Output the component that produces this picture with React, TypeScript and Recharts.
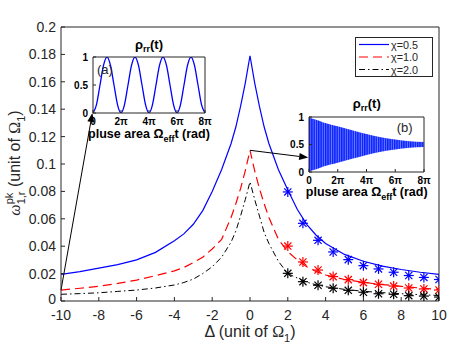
import React from 'react';
import { ComposedChart, Line, Area, XAxis, YAxis, ReferenceLine } from 'recharts';

const AX = '#262626';
const SANS = '"Liberation Sans", Arial, Helvetica, sans-serif';
const SERIF = '"Liberation Serif", "DejaVu Serif", serif';

// main panel: peak frequency vs detuning
const delta = [-10, -9, -8, -7, -6, -5, -4, -3.5, -3, -2.5, -2, -1.5, -1, -0.75, -0.5, -0.25, 0, 0.25, 0.5, 0.75, 1, 1.5, 2, 2.5, 3, 3.5, 4, 5, 6, 7, 8, 9, 10];
const chi05 = [0.0195, 0.0215, 0.024, 0.0265, 0.03, 0.0355, 0.044, 0.049, 0.056, 0.066, 0.08, 0.096, 0.115, 0.127, 0.142, 0.159, 0.179, 0.159, 0.142, 0.127, 0.115, 0.096, 0.081, 0.067, 0.056, 0.048, 0.042, 0.034, 0.029, 0.0255, 0.023, 0.021, 0.0195];
const chi10 = [0.008, 0.0093, 0.0108, 0.0128, 0.0153, 0.0185, 0.022, 0.0245, 0.028, 0.032, 0.038, 0.045, 0.061, 0.071, 0.082, 0.095, 0.11, 0.095, 0.082, 0.071, 0.061, 0.045, 0.036, 0.03, 0.025, 0.0215, 0.019, 0.0157, 0.0136, 0.012, 0.0107, 0.0095, 0.0085];
const chi20 = [0.0049, 0.0054, 0.006, 0.007, 0.008, 0.0095, 0.0117, 0.0135, 0.016, 0.02, 0.025, 0.032, 0.043, 0.051, 0.062, 0.074, 0.087, 0.074, 0.062, 0.05, 0.042, 0.029, 0.02, 0.0168, 0.0138, 0.0118, 0.0104, 0.0085, 0.0071, 0.0061, 0.0053, 0.0046, 0.004];

// numerical points (asterisks)
const starDelta = [2, 2.8, 3.6, 4.4, 5.2, 6, 6.8, 7.6, 8.4, 9.2, 10];
const star05 = [0.0796, 0.0567, 0.0443, 0.0358, 0.0302, 0.0258, 0.0234, 0.021, 0.0186, 0.0172, 0.0157];
const star10 = [0.0401, 0.0285, 0.0226, 0.0178, 0.0156, 0.0134, 0.0122, 0.0109, 0.0095, 0.0088, 0.008];
const star20 = [0.0202, 0.0141, 0.0115, 0.0093, 0.0078, 0.0064, 0.0053, 0.0049, 0.0039, 0.0036, 0.0029];

const xTicks = [-10, -8, -6, -4, -2, 0, 2, 4, 6, 8, 10];
const yTicks = [0, 0.02, 0.04, 0.06, 0.08, 0.1, 0.12, 0.14, 0.16, 0.18, 0.2];

// inset (a): Rabi oscillation, t in units of pi
const tA = [0, 0.25, 0.5, 0.75, 1, 1.25, 1.5, 1.75, 2, 2.25, 2.5, 2.75, 3, 3.25, 3.5, 3.75, 4, 4.25, 4.5, 4.75, 5, 5.25, 5.5, 5.75, 6, 6.25, 6.5, 6.75, 7, 7.25, 7.5, 7.75, 8];
const rhoA = [0, 0.15, 0.5, 0.85, 1, 0.85, 0.5, 0.15, 0, 0.15, 0.5, 0.85, 1, 0.85, 0.5, 0.15, 0, 0.15, 0.5, 0.85, 1, 0.85, 0.5, 0.15, 0, 0.15, 0.5, 0.85, 1, 0.85, 0.5, 0.15, 0];

// inset (b): envelope of the fast damped oscillation
const tB = [0, 0.25, 0.5, 1, 2, 3, 4, 5, 6, 7, 8];
const rhoBHigh = [1, 0.97, 0.95, 0.9, 0.83, 0.76, 0.69, 0.63, 0.59, 0.56, 0.545];
const rhoBLow = [0, 0.03, 0.05, 0.1, 0.17, 0.24, 0.31, 0.37, 0.41, 0.44, 0.455];

const piTicks = [0, 2, 4, 6, 8];
const rhoTicks = [0, 0.5, 1];

const legendItems = [
  { label: 'χ=0.5', color: '#0000ff', dash: undefined },
  { label: 'χ=1.0', color: '#ff0000', dash: '9 5' },
  { label: 'χ=2.0', color: '#000000', dash: '6 3 1.5 3' },
];

const mainRows = delta.map((d, i) => ({ d, c05: chi05[i], c10: chi10[i], c20: chi20[i] }));
const starRows = (vals: number[]) => starDelta.map((d, i) => ({ d, v: vals[i] }));
const rowsA = tA.map((t, i) => ({ t, rho: rhoA[i] }));
const rowsB = tB.map((t, i) => ({ t, band: [rhoBLow[i], rhoBHigh[i]] }));

const piFmt = (v: number) => (v === 0 ? '0' : `${v}π`);

function Asterisk({ cx, cy, color }: any) {
  if (cx == null || cy == null) return <g />;
  const r = 5;
  const q = r * 0.72;
  return (
    <g stroke={color} strokeWidth={1.2}>
      <line x1={cx - r} y1={cy} x2={cx + r} y2={cy} />
      <line x1={cx} y1={cy - r} x2={cx} y2={cy + r} />
      <line x1={cx - q} y1={cy - q} x2={cx + q} y2={cy + q} />
      <line x1={cx - q} y1={cy + q} x2={cx + q} y2={cy - q} />
    </g>
  );
}

function Arrow(p: any) {
  const { x1, y1, x2, y2 } = p;
  if ([x1, y1, x2, y2].some((v) => v == null)) return <g />;
  const a = Math.atan2(y2 - y1, x2 - x1);
  const L = 9;
  const W = 3.5;
  const bx = x2 - L * Math.cos(a);
  const by = y2 - L * Math.sin(a);
  const px = -Math.sin(a) * W;
  const py = Math.cos(a) * W;
  return (
    <g>
      <line x1={x1} y1={y1} x2={bx} y2={by} stroke="#000" strokeWidth={1} />
      <polygon points={`${x2},${y2} ${bx + px},${by + py} ${bx - px},${by - py}`} fill="#000" />
    </g>
  );
}

// left tick labels; the bottom "0" sits a touch higher so it clears "-10"
function YTick({ x, y, payload }: any) {
  return (
    <text x={x} y={y} dy={payload.value === 0 ? 3 : 5} textAnchor="end" fontSize={14} fill={AX}>
      {payload.value}
    </text>
  );
}

const axisProps = {
  axisLine: { stroke: AX, strokeWidth: 1 },
  tickLine: { stroke: AX, strokeWidth: 1 },
};

function Inset({ which }: { which: 'a' | 'b' }) {
  const isA = which === 'a';
  const left = isA ? 63 : 279;
  const top = isA ? 35 : 95;
  const w = isA ? 152 : 155;
  const h = 110;
  const cx = isA ? 86 : 87.7;
  const tickStyle = { fill: '#000', fontSize: 10, fontWeight: 'bold' as const };
  return (
    <div style={{ position: 'absolute', left, top }}>
      <ComposedChart width={w} height={h} data={isA ? rowsA : rowsB} margin={{ top: 21, right: 9, bottom: 0, left: 0 }}>
        <defs>
          <pattern id="osc" width="2.3" height="4" patternUnits="userSpaceOnUse">
            <rect width="2.3" height="4" fill="#6a7cff" />
            <rect width="1.4" height="4" fill="#0a20ff" />
          </pattern>
        </defs>
        <XAxis
          dataKey="t" type="number" domain={[0, 8]} ticks={piTicks} interval={0} allowDataOverflow
          tickFormatter={piFmt} height={isA ? 32 : 33} tickSize={-3} tickMargin={8}
          {...axisProps} tick={tickStyle}
          label={{
            content: () => (
              <text x={cx} y={isA ? 103 : 101} textAnchor="middle" fontSize={12.5} fontWeight="bold" fill="#000">
                pluse area Ω<tspan fontSize={9} dy={4}>eff</tspan><tspan dy={-4}>t (rad)</tspan>
              </text>
            ),
          }}
        />
        <XAxis
          xAxisId="top" orientation="top" dataKey="t" type="number" domain={[0, 8]} ticks={piTicks}
          interval={0} allowDataOverflow height={1} tickSize={-3} tick={false} {...axisProps}
          label={{
            content: () => (
              <g>
                <text x={cx} y={isA ? 14 : 13} textAnchor="middle" fontSize={13} fontWeight="bold" fill="#000">
                  ρ<tspan fontSize={9} dy={3}>rr</tspan><tspan dy={-3}>(t)</tspan>
                </text>
                <text x={isA ? 34 : 117.7} y={isA ? 39 : 37} fontSize={13} fill={AX}>
                  {isA ? '(a)' : '(b)'}
                </text>
              </g>
            ),
          }}
        />
        <YAxis
          type="number" domain={[0, 1]} ticks={rhoTicks} interval={0} allowDataOverflow width={30}
          tickSize={-3} tickMargin={8} {...axisProps} tick={tickStyle}
        />
        <YAxis
          yAxisId="r" orientation="right" type="number" domain={[0, 1]} ticks={rhoTicks} interval={0}
          width={1} tickSize={-3} tick={false} {...axisProps}
        />
        {isA ? (
          <Line dataKey="rho" type="monotone" stroke="#0000ff" strokeWidth={1.3} dot={false} activeDot={false} isAnimationActive={false} />
        ) : (
          <Area dataKey="band" type="monotone" stroke="none" fill="url(#osc)" fillOpacity={1} dot={false} activeDot={false} isAnimationActive={false} />
        )}
      </ComposedChart>
    </div>
  );
}

function Legend() {
  return (
    <svg style={{ position: 'absolute', left: 355, top: 37 }} width={79} height={41}>
      <rect x={0.5} y={0.5} width={77} height={39} fill="#fff" stroke={AX} strokeWidth={1} />
      {legendItems.map((it, i) => {
        const y = 7.5 + i * 12.5;
        return (
          <g key={it.label}>
            <line x1={4} x2={34} y1={y} y2={y} stroke={it.color} strokeWidth={1.2} strokeDasharray={it.dash} />
            <text x={36} y={y + 4} fontSize={10.8} fill={AX}>{it.label}</text>
          </g>
        );
      })}
    </svg>
  );
}

export default function App() {
  return (
    <div style={{ position: 'absolute', left: 0, top: 0, width: 471, height: 360, background: '#fff', fontFamily: SANS }}>
      <ComposedChart width={471} height={360} data={mainRows} margin={{ top: 26, right: 31, bottom: 0, left: 0 }}>
        <XAxis
          dataKey="d" type="number" domain={[-10, 10]} ticks={xTicks} interval={0} allowDataOverflow
          height={59} tickSize={-4} tickMargin={13} {...axisProps} tick={{ fill: AX, fontSize: 14 }}
          label={{
            content: () => (
              <text x={250} y={337} textAnchor="middle" fontSize={16} fill={AX}>
                Δ (unit of <tspan fontFamily={SERIF}>Ω</tspan>
                <tspan fontSize={11} dy={5}>1</tspan>
                <tspan dy={-5}>)</tspan>
              </text>
            ),
          }}
        />
        <XAxis
          xAxisId="top" orientation="top" dataKey="d" type="number" domain={[-10, 10]} ticks={xTicks}
          interval={0} allowDataOverflow height={1} tickSize={-4} tick={false} {...axisProps}
        />
        <YAxis
          type="number" domain={[0, 0.2]} ticks={yTicks} interval={0} allowDataOverflow width={61}
          tickSize={-4} tickMargin={9} {...axisProps} tick={YTick}
          label={{
            content: () => (
              <text transform="rotate(-90)" x={-163} y={20} textAnchor="middle" fontSize={16} fill={AX}>
                <tspan fontFamily={SERIF} fontStyle="italic">ω</tspan>
                <tspan fontSize={11} dy={-7}>pk</tspan>
                <tspan fontSize={11} dx={-11.6} dy={12}>1,r</tspan>
                <tspan dy={-5}> (unit of </tspan>
                <tspan fontFamily={SERIF}>Ω</tspan>
                <tspan fontSize={11} dy={5}>1</tspan>
                <tspan dy={-5}>)</tspan>
              </text>
            ),
          }}
        />
        <YAxis
          yAxisId="right" orientation="right" type="number" domain={[0, 0.2]} ticks={yTicks} interval={0}
          width={1} tickSize={-4} tick={false} {...axisProps}
        />
        <Line dataKey="c05" type="linear" stroke="#0000ff" strokeWidth={1.2} dot={false} activeDot={false} isAnimationActive={false} />
        <Line dataKey="c10" type="linear" stroke="#ff0000" strokeWidth={1.2} strokeDasharray="9 5" dot={false} activeDot={false} isAnimationActive={false} />
        <Line dataKey="c20" type="linear" stroke="#000000" strokeWidth={1} strokeDasharray="6 3 1.5 3" dot={false} activeDot={false} isAnimationActive={false} />
        <Line data={starRows(star05)} dataKey="v" stroke="none" activeDot={false} isAnimationActive={false}
          dot={(p: any) => <Asterisk key={`b${p.index}`} cx={p.cx} cy={p.cy} color="#0000ff" />} />
        <Line data={starRows(star10)} dataKey="v" stroke="none" activeDot={false} isAnimationActive={false}
          dot={(p: any) => <Asterisk key={`r${p.index}`} cx={p.cx} cy={p.cy} color="#ff0000" />} />
        <Line data={starRows(star20)} dataKey="v" stroke="none" activeDot={false} isAnimationActive={false}
          dot={(p: any) => <Asterisk key={`k${p.index}`} cx={p.cx} cy={p.cy} color="#000000" />} />
        <ReferenceLine segment={[{ x: -10, y: 0.008 }, { x: -8.34, y: 0.1372 }]} shape={Arrow} />
        <ReferenceLine segment={[{ x: 0, y: 0.11 }, { x: 3.08, y: 0.1047 }]} shape={Arrow} />
      </ComposedChart>
      <Inset which="a" />
      <Inset which="b" />
      <Legend />
    </div>
  );
}
